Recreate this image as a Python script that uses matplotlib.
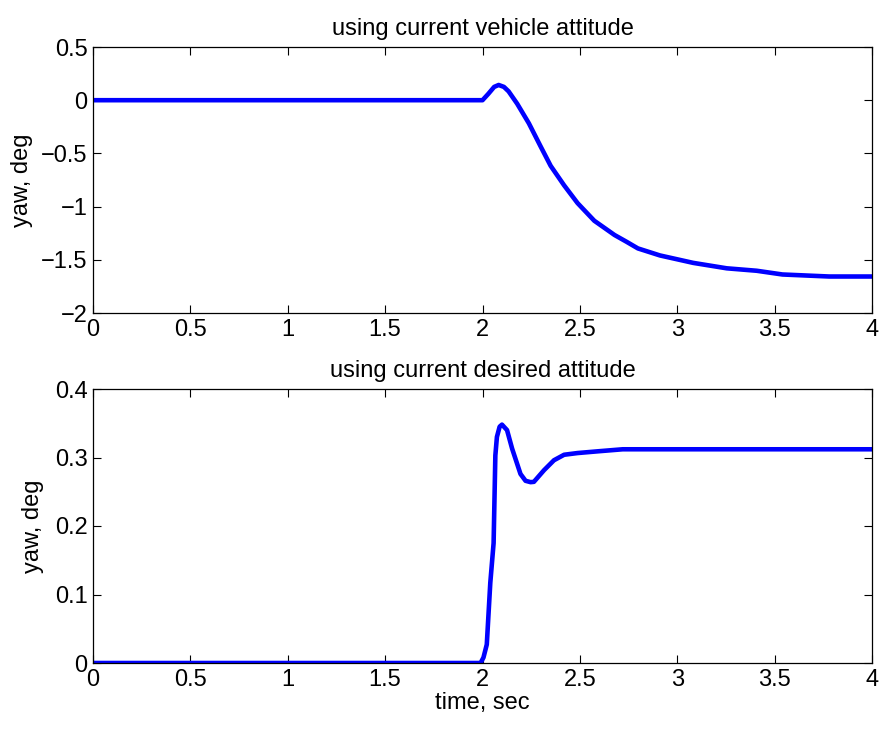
import numpy as np
import matplotlib
matplotlib.use('Agg')
import matplotlib.pyplot as plt

plt.rcParams['font.family'] = ['Liberation Sans', 'DejaVu Sans']

# yaw response using current vehicle attitude
t_vehicle = [0, 2.0, 2.03, 2.06, 2.083, 2.11, 2.134, 2.178, 2.238, 2.298, 2.35,
             2.419, 2.488, 2.574, 2.678, 2.74, 2.798, 2.911, 3.082, 3.254,
             3.408, 3.54, 3.78, 4.0]
yaw_vehicle = [0, 0, 0.06, 0.125, 0.143, 0.125, 0.083, -0.033, -0.217, -0.433,
               -0.617, -0.8, -0.967, -1.133, -1.267, -1.331, -1.393, -1.459,
               -1.529, -1.58, -1.603, -1.638, -1.657, -1.657]

# yaw response using current desired attitude
t_desired = [0, 1.99, 2.005, 2.022, 2.04, 2.057, 2.066, 2.074, 2.088, 2.1, 2.126,
             2.152, 2.195, 2.221, 2.247, 2.264, 2.316, 2.367, 2.419, 2.488,
             2.591, 2.72, 4.0]
yaw_desired = [0, 0, 0.008, 0.027, 0.117, 0.175, 0.303, 0.33, 0.345, 0.348, 0.34,
               0.313, 0.276, 0.266, 0.264, 0.2645, 0.2815, 0.296, 0.304, 0.3065,
               0.309, 0.312, 0.312]

xticks = np.arange(0, 4.01, 0.5)
xticklabels = ['0', '0.5', '1', '1.5', '2', '2.5', '3', '3.5', '4']

fig = plt.figure(figsize=(8.84, 7.29), dpi=100)
ax1 = fig.add_axes([93/884, 1 - 313/729, 779/884, 266/729])
ax2 = fig.add_axes([93/884, 1 - 663/729, 779/884, 274/729])

fs = 17

# top subplot
ax1.plot(t_vehicle, yaw_vehicle, color='blue', linewidth=3.3)
ax1.set_xlim(0, 4)
ax1.set_ylim(-2, 0.5)
ax1.set_yticks([-2, -1.5, -1, -0.5, 0, 0.5])
ax1.set_yticklabels(['\u22122', '\u22121.5', '\u22121', '\u22120.5', '0', '0.5'])
ax1.set_title('using current vehicle attitude', fontsize=fs, pad=9)
ax1.set_ylabel('yaw, deg', fontsize=fs, labelpad=6)

# bottom subplot
ax2.plot(t_desired, yaw_desired, color='blue', linewidth=3.3)
ax2.set_xlim(0, 4)
ax2.set_ylim(0, 0.4)
ax2.set_yticks([0, 0.1, 0.2, 0.3, 0.4])
ax2.set_yticklabels(['0', '0.1', '0.2', '0.3', '0.4'])
ax2.set_title('using current desired attitude', fontsize=fs, pad=9)
ax2.set_ylabel('yaw, deg', fontsize=fs, labelpad=8)
ax2.set_xlabel('time, sec', fontsize=fs, labelpad=1)

for ax in (ax1, ax2):
    ax.set_xticks(xticks)
    ax.set_xticklabels(xticklabels)
    ax.tick_params(direction='in', top=True, right=True, length=6, width=0.8,
                   labelsize=fs, pad=4)
    for s in ax.spines.values():
        s.set_linewidth(0.9)

fig.savefig('out.png', dpi=100)
